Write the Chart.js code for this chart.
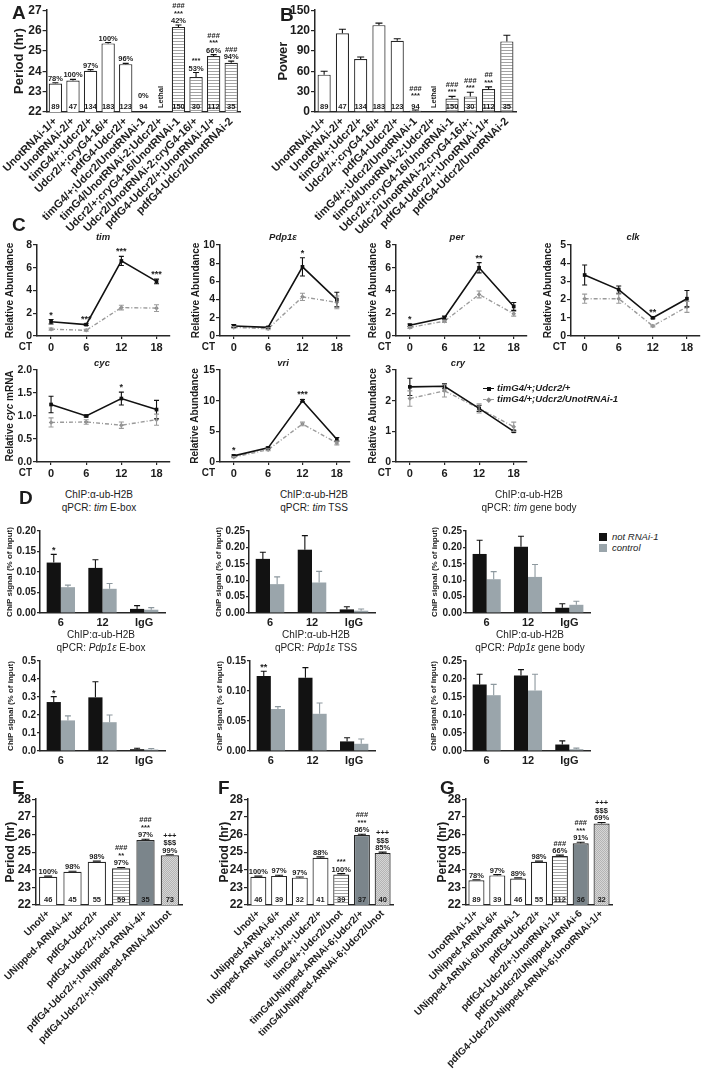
<!DOCTYPE html>
<html>
<head>
<meta charset="utf-8">
<title>Udcr2 / not RNAi figure</title>
<script src="https://cdn.jsdelivr.net/npm/chart.js@4.4.1/dist/chart.umd.min.js"></script>
<style>
  html, body { margin: 0; padding: 0; background: #fff; }
  body { position: relative; width: 709px; height: 1074px; overflow: hidden;
         font-family: "Liberation Sans", Arial, Helvetica, sans-serif; color: #1c1c1c; }
  canvas { position: absolute; }
  .t { position: absolute; white-space: nowrap; line-height: 1; }
  .c { transform: translate(-50%, -50%); }
  .panel { font-size: 19px; font-weight: bold; }
  .gene { font-size: 9.5px; font-weight: bold; font-style: italic; }
  .chip { font-size: 10px; text-align: center; line-height: 12.5px; }
  .key { font-size: 9.5px; font-style: italic; }
  .keyb { font-size: 9.5px; font-style: italic; font-weight: bold; }
  .ytitle { font-size: 10px; font-weight: bold; transform: translate(-50%, -50%) rotate(-90deg); }
</style>
</head>
<body>
<script>
// ---------- data ----------
// A / B : circadian period and power
const genotypesA = ["UnotRNAi-1/+", "UnotRNAi-2/+", "timG4/+;Udcr2/+", "Udcr2/+;cryG4-16/+", "pdfG4-Udcr2/+",
  "timG4/+;Udcr2/UnotRNAi-1", "timG4/UnotRNAi-2;Udcr2/+", "Udcr2/+;cryG4-16/UnotRNAi-1",
  "Udcr2/UnotRNAi-2;cryG4-16/+", "pdfG4-Udcr2/+;UnotRNAi-1/+", "pdfG4-Udcr2/UnotRNAi-2"];
const genotypesB = ["UnotRNAi-1/+", "UnotRNAi-2/+", "timG4/+;Udcr2/+", "Udcr2/+;cryG4-16/+", "pdfG4-Udcr2/+",
  "timG4/+;Udcr2/UnotRNAi-1", "timG4/UnotRNAi-2;Udcr2/+", "Udcr2/+;cryG4-16/UnotRNAi-1",
  "Udcr2/UnotRNAi-2;cryG4-16/+;", "pdfG4-Udcr2/+;UnotRNAi-1/+", "pdfG4-Udcr2/UnotRNAi-2"];
const flyCountAB = [89, 47, 134, 183, 123, 94, "Lethal", 150, 30, 112, 35];
const groupAB = ["ctrl", "ctrl", "ctrl", "ctrl", "ctrl", "ctrl", "ctrl", "kd", "kd", "kd", "kd"];
const periodA = [23.4, 23.55, 24.02, 25.37, 24.35, null, null, 26.18, 23.72, 24.75, 24.42];
const periodAErr = [0.04, 0.05, 0.06, 0.04, 0.04, 0, 0, 0.09, 0.22, 0.07, 0.08];
const rhythmicA = ["78%", "100%", "97%", "100%", "96%", "0%", "", "42%", "53%", "66%", "94%"];
const signifA = ["", "", "", "", "", "", "", "###\n***", "***", "###\n***", "###"];
const powerB = [55, 116, 78, 128, 105, 2, null, 20, 23, 34, 104];
const powerBErr = [5, 6, 3, 3, 3, 1, 0, 3, 6, 3, 9];
const signifB = ["", "", "", "", "", "###\n***", "", "###\n***", "###\n***", "##\n***", ""];

// C : qPCR time courses
const ctHours = [0, 6, 12, 18];
const legendC = ["timG4/+;Udcr2/+", "timG4/+;Udcr2/UnotRNAi-1"];
const timCtrl = [1.25, 1.0, 6.6, 4.8],   timCtrlErr = [0.2, 0.08, 0.4, 0.2];
const timKd   = [0.6, 0.5, 2.5, 2.45],   timKdErr   = [0.1, 0.08, 0.2, 0.3];
const timStars = ["*", "***", "***", "***"];
const pdpCtrl = [1.1, 0.95, 7.6, 4.0],   pdpCtrlErr = [0.15, 0.1, 1.0, 0.8];
const pdpKd   = [0.95, 0.8, 4.3, 3.7],   pdpKdErr   = [0.1, 0.1, 0.4, 0.7];
const pdpStars = ["", "", "*", ""];
const perCtrl = [0.95, 1.6, 6.0, 2.6],   perCtrlErr = [0.1, 0.15, 0.45, 0.35];
const perKd   = [0.75, 1.3, 3.65, 1.95], perKdErr   = [0.08, 0.1, 0.3, 0.2];
const perStars = ["*", "", "**", ""];
const clkCtrl = [3.35, 2.55, 1.0, 2.05], clkCtrlErr = [0.55, 0.2, 0.05, 0.45];
const clkKd   = [2.05, 2.05, 0.55, 1.6], clkKdErr   = [0.25, 0.25, 0.05, 0.3];
const clkStars = ["", "", "**", ""];
const cycCtrl = [1.25, 1.0, 1.38, 1.14], cycCtrlErr = [0.18, 0.02, 0.14, 0.2];
const cycKd   = [0.86, 0.87, 0.8, 0.92], cycKdErr   = [0.1, 0.05, 0.07, 0.12];
const cycStars = ["", "", "*", ""];
const vriCtrl = [1.0, 2.3, 10.0, 3.7],   vriCtrlErr = [0.15, 0.15, 0.2, 0.3];
const vriKd   = [0.8, 2.0, 6.2, 3.1],    vriKdErr   = [0.1, 0.15, 0.3, 0.3];
const vriStars = ["*", "", "***", ""];
const cryCtrl = [2.45, 2.47, 1.75, 1.0], cryCtrlErr = [0.28, 0.08, 0.1, 0.03];
const cryKd   = [2.07, 2.32, 1.75, 1.15], cryKdErr  = [0.25, 0.2, 0.15, 0.15];
const cryStars = ["", "", "", ""];

// D : ChIP
const chipGroups = ["6", "12", "IgG"];
const chipSeries = ["not RNAi-1", "control"];
const timEboxNot = [0.123, 0.11, 0.01],  timEboxNotErr = [0.02, 0.02, 0.008];
const timEboxCtl = [0.063, 0.059, 0.008], timEboxCtlErr = [0.005, 0.013, 0.005];
const timEboxStars = ["*", "", ""];
const timTssNot = [0.165, 0.193, 0.011], timTssNotErr = [0.02, 0.043, 0.008];
const timTssCtl = [0.088, 0.093, 0.007], timTssCtlErr = [0.022, 0.034, 0.005];
const timBodyNot = [0.18, 0.202, 0.016], timBodyNotErr = [0.042, 0.032, 0.012];
const timBodyCtl = [0.103, 0.11, 0.025], timBodyCtlErr = [0.023, 0.038, 0.011];
const pdpEboxNot = [0.272, 0.298, 0.01], pdpEboxNotErr = [0.03, 0.087, 0.005];
const pdpEboxCtl = [0.17, 0.16, 0.008],  pdpEboxCtlErr = [0.025, 0.04, 0.006];
const pdpEboxStars = ["*", "", ""];
const pdpTssNot = [0.125, 0.122, 0.016], pdpTssNotErr = [0.008, 0.017, 0.006];
const pdpTssCtl = [0.07, 0.062, 0.012],  pdpTssCtlErr = [0.004, 0.018, 0.008];
const pdpTssStars = ["**", "", ""];
const pdpBodyNot = [0.185, 0.21, 0.018], pdpBodyNotErr = [0.028, 0.016, 0.01];
const pdpBodyCtl = [0.155, 0.168, 0.005], pdpBodyCtlErr = [0.03, 0.045, 0.003];

// E / F / G : period
const genotypesE = ["Unot/+", "UNipped-ARNAi-4/+", "pdfG4-Udcr2/+", "pdfG4-Udcr2/+;Unot/+",
  "pdfG4-Udcr2/+;UNipped-ARNAi-4/+", "pdfG4-Udcr2/+;UNipped-ARNAi-4/Unot"];
const periodE = [23.6, 23.88, 24.45, 24.08, 25.68, 24.82];
const periodEErr = [0.04, 0.03, 0.04, 0.05, 0.05, 0.03];
const rhythmicE = ["100%", "98%", "98%", "97%", "97%", "99%"];
const countE = [46, 45, 55, 59, 35, 73];
const signifE = ["", "", "", "###\n**", "###\n***", "+++\n$$$"];
const groupE = ["ctrl", "ctrl", "ctrl", "kd", "dbl", "triple"];

const genotypesF = ["Unot/+", "UNipped-ARNAi-6/+", "UNipped-ARNAi-6/+;Unot/+", "timG4/+;Udcr2/+",
  "timG4/+;Udcr2/Unot", "timG4/UNipped-ARNAi-6;Udcr2/+", "timG4/UNipped-ARNAi-6;Udcr2/Unot"];
const periodF = [23.6, 23.65, 23.55, 24.68, 23.73, 25.97, 24.95];
const periodFErr = [0.04, 0.04, 0.04, 0.05, 0.05, 0.04, 0.05];
const rhythmicF = ["100%", "97%", "97%", "88%", "100%", "86%", "85%"];
const countF = [46, 39, 32, 41, 39, 37, 40];
const signifF = ["", "", "", "", "***", "###\n***", "+++\n$$$"];
const groupF = ["ctrl", "ctrl", "ctrl", "ctrl", "kd", "dbl", "triple"];

const genotypesG = ["UnotRNAi-1/+", "UNipped-ARNAi-6/+", "UNipped-ARNAi-6/UnotRNAi-1", "pdfG4-Udcr2/+",
  "pdfG4-Udcr2/+;UnotRNAi-1/+", "pdfG4-Udcr2/UNipped-ARNAi-6", "pdfG4-Udcr2/UNipped-ARNAi-6;UnotRNAi-1/+"];
const periodG = [23.4, 23.68, 23.5, 24.45, 24.78, 25.5, 26.62];
const periodGErr = [0.03, 0.04, 0.04, 0.04, 0.05, 0.06, 0.06];
const rhythmicG = ["78%", "97%", "89%", "98%", "66%", "91%", "69%"];
const countG = [89, 39, 46, 55, 112, 36, 32];
const signifG = ["", "", "", "", "###", "###\n***", "+++\n$$$"];
const groupG = ["ctrl", "ctrl", "ctrl", "ctrl", "kd", "dbl", "triple"];

// ---------- setup ----------
const FONT = '"Liberation Sans", Arial, Helvetica, sans-serif';
const INK = '#1c1c1c';
Chart.defaults.font.family = FONT;
Chart.defaults.color = INK;
Chart.defaults.animation = false;
Chart.defaults.plugins.legend.display = false;
Chart.defaults.plugins.tooltip.enabled = false;

function pattern(w, h, paint) {
  const c = document.createElement('canvas');
  c.width = w; c.height = h;
  const g = c.getContext('2d');
  paint(g);
  return g.createPattern(c, 'repeat');
}
const FILL = {
  ctrl: '#ffffff',
  kd: pattern(4, 3, g => { g.fillStyle = '#fff'; g.fillRect(0, 0, 4, 3); g.fillStyle = '#a3a3a3'; g.fillRect(0, 0, 4, 1); }),
  dbl: '#7b858b',
  triple: pattern(2, 2, g => { g.fillStyle = '#d6d6d6'; g.fillRect(0, 0, 2, 2); g.fillStyle = '#b4b4b4'; g.fillRect(0, 0, 1, 1); g.fillRect(1, 1, 1, 1); })
};

function mount(cv) {
  const c = document.createElement('canvas');
  c.width = cv.width; c.height = cv.height;
  c.style.left = cv.left + 'px'; c.style.top = cv.top + 'px';
  c.style.width = cv.width + 'px'; c.style.height = cv.height + 'px';
  document.body.appendChild(c);
  return c;
}
// canvas + wanted plot box -> padding and fixed axis sizes
function frame(cv, box) {
  return {
    padding: { left: 0, bottom: 0, top: box.top - cv.top, right: cv.left + cv.width - box.right },
    yw: box.left - cv.left,
    xh: cv.top + cv.height - box.bottom
  };
}
function addText(html, x, y, cls, centered) {
  const d = document.createElement('div');
  d.className = 't ' + cls + (centered ? ' c' : '');
  d.style.left = x + 'px'; d.style.top = y + 'px';
  d.innerHTML = html;
  document.body.appendChild(d);
  return d;
}

// error bars, text above marks, n inside bars
const marks = {
  id: 'marks',
  afterDatasetsDraw(chart, args, o) {
    const { ctx, chartArea: ca } = chart;
    const y = chart.scales.y;
    ctx.save();
    chart.data.datasets.forEach((ds, di) => {
      chart.getDatasetMeta(di).data.forEach((el, i) => {
        const raw = ds.data[i];
        const val = (raw && typeof raw === 'object') ? raw.y : raw;
        const px = el.x;
        let top = val == null ? ca.bottom - (o.emptyLift || 10) : el.y;
        const err = ds.errors ? ds.errors[i] : 0;
        if (val != null && err) {
          const up = y.getPixelForValue(val + err);
          ctx.strokeStyle = ds.errColor || '#111';
          ctx.lineWidth = 1.1;
          ctx.beginPath();
          ctx.moveTo(px, el.y); ctx.lineTo(px, up);
          ctx.moveTo(px - o.cap, up); ctx.lineTo(px + o.cap, up);
          if (o.both) {
            const dn = y.getPixelForValue(val - err);
            ctx.moveTo(px, el.y); ctx.lineTo(px, dn);
            ctx.moveTo(px - o.cap, dn); ctx.lineTo(px + o.cap, dn);
          }
          ctx.stroke();
          top = Math.min(top, up);
        }
        if (o.countRoom) top = Math.min(top, ca.bottom - o.countRoom);
        const txt = ds.topText ? ds.topText[i] : '';
        if (txt) {
          const lines = txt.split('\n');
          ctx.fillStyle = INK; ctx.font = o.textFont;
          ctx.textAlign = 'center'; ctx.textBaseline = 'alphabetic';
          lines.forEach((t, k) => ctx.fillText(t, px, top - o.gap - (lines.length - 1 - k) * o.lh));
        }
        const n = ds.counts ? ds.counts[i] : null;
        if (n != null) {
          ctx.fillStyle = INK; ctx.font = o.countFont;
          if (typeof n === 'string') {
            ctx.save();
            ctx.translate(px, ca.bottom - 4);
            ctx.rotate(-Math.PI / 2);
            ctx.textAlign = 'left'; ctx.textBaseline = 'middle';
            ctx.fillText(n, 0, 0);
            ctx.restore();
          } else {
            ctx.textAlign = 'center'; ctx.textBaseline = 'bottom';
            ctx.fillText(String(n), px, ca.bottom - 1);
          }
        }
      });
    });
    ctx.restore();
  }
};

const ctLabel = {
  id: 'ctLabel',
  afterDraw(chart) {
    const { ctx, chartArea } = chart;
    ctx.save();
    ctx.font = 'bold 10px ' + FONT; ctx.fillStyle = INK;
    ctx.textAlign = 'right'; ctx.textBaseline = 'top';
    ctx.fillText('CT', chartArea.left - 5, chart.scales.x.top + 6);
    ctx.restore();
  }
};

function axisY(f, o) {
  return {
    min: o.min, max: o.max,
    grid: { drawOnChartArea: false, tickLength: o.tickLen || 4, color: '#262626', lineWidth: 1.2 },
    border: { color: '#262626', width: 1.5 },
    ticks: { stepSize: o.step, padding: 1, color: INK, font: { size: o.tickSize, weight: 'bold' },
             callback: o.fmt || (v => v) },
    title: o.yTitle ? { display: true, text: o.yTitle, color: INK, font: { size: o.titleSize, weight: 'bold' },
             padding: { top: o.titlePad, bottom: 0 } } : { display: false },
    afterFit: s => { s.width = f.yw; }
  };
}

function periodPanel(o) {
  const f = frame(o.canvas, o.box);
  return new Chart(mount(o.canvas), {
    type: 'bar',
    data: {
      labels: o.labels,
      datasets: [{
        data: o.values,
        errors: o.errors,
        topText: o.values.map((v, i) => [o.sig[i], o.pct[i]].filter(Boolean).join('\n')),
        counts: o.counts,
        backgroundColor: o.groups.map(k => FILL[k]),
        borderColor: '#262626',
        borderWidth: 1.2,
        categoryPercentage: o.barShare,
        barPercentage: 1
      }]
    },
    options: {
      responsive: false,
      layout: { padding: f.padding },
      scales: {
        x: {
          grid: { display: false, drawTicks: false },
          border: { display: true, color: '#262626', width: 1.5 },
          ticks: { autoSkip: false, minRotation: 45, maxRotation: 45, padding: 3, color: INK,
                   font: { size: o.labelSize, weight: 'bold' } },
          afterFit: s => { s.height = f.xh; }
        },
        y: axisY(f, o)
      },
      plugins: { marks: { cap: o.cap, gap: 2, lh: 7.5, textFont: 'bold 7.5px ' + FONT,
                          countFont: 'bold 7.5px ' + FONT, emptyLift: 10, countRoom: 12 } }
    },
    plugins: [marks]
  });
}

function linePanel(o) {
  const f = frame(o.canvas, o.box);
  const pts = arr => ctHours.map((h, i) => ({ x: h, y: arr[i] }));
  return new Chart(mount(o.canvas), {
    type: 'line',
    data: {
      datasets: [
        { label: legendC[0], data: pts(o.ctrl), errors: o.ctrlErr, topText: o.stars, errColor: '#111',
          borderColor: '#111', backgroundColor: '#111', borderWidth: 1.6,
          pointStyle: 'rect', pointRadius: 2.6, pointBorderWidth: 0 },
        { label: legendC[1], data: pts(o.kd), errors: o.kdErr, errColor: '#9a9a9a',
          borderColor: '#9a9a9a', backgroundColor: '#8a8a8a', borderWidth: 1.4, borderDash: [4, 2, 1, 2],
          pointStyle: 'rectRot', pointRadius: 2.3, pointBorderWidth: 0 }
      ]
    },
    options: {
      responsive: false,
      layout: { padding: f.padding },
      scales: {
        x: {
          type: 'linear', min: -2.4, max: 20.3,
          afterBuildTicks: s => { s.ticks = ctHours.map(v => ({ value: v })); },
          grid: { drawOnChartArea: false, tickLength: 3, color: '#262626', lineWidth: 1.2 },
          border: { color: '#262626', width: 1.5 },
          ticks: { padding: 2, maxRotation: 0, color: INK, font: { size: 11, weight: 'bold' } },
          afterFit: s => { s.height = f.xh; }
        },
        y: axisY(f, Object.assign({ min: 0, tickSize: 10.5, titleSize: 10 }, o))
      },
      plugins: { marks: { cap: 2.5, both: true, gap: 2, lh: 7, textFont: 'bold 9px ' + FONT } }
    },
    plugins: [marks, ctLabel]
  });
}

function chipPanel(o) {
  const f = frame(o.canvas, o.box);
  return new Chart(mount(o.canvas), {
    type: 'bar',
    data: {
      labels: chipGroups,
      datasets: [
        { label: chipSeries[0], data: o.not, errors: o.notErr, topText: o.stars || [], errColor: '#111',
          backgroundColor: '#121212', categoryPercentage: 0.68, barPercentage: 1 },
        { label: chipSeries[1], data: o.ctl, errors: o.ctlErr, errColor: '#8d989e',
          backgroundColor: '#9aa5ab', categoryPercentage: 0.68, barPercentage: 1 }
      ]
    },
    options: {
      responsive: false,
      layout: { padding: f.padding },
      scales: {
        x: {
          grid: { display: false, drawTicks: false },
          border: { display: true, color: '#262626', width: 1.5 },
          ticks: { padding: 3, color: INK, font: { size: 11, weight: 'bold' } },
          afterFit: s => { s.height = f.xh; }
        },
        y: axisY(f, Object.assign({ min: 0, tickSize: 10, tickLen: 3, titleSize: 8, yTitle: 'ChIP signal (% of input)',
                                    fmt: v => v.toFixed(o.dec) }, o))
      },
      plugins: { marks: { cap: 3, gap: 1, lh: 7, textFont: 'bold 9px ' + FONT } }
    },
    plugins: [marks]
  });
}

// ---------- A / B ----------
periodPanel({
  canvas: { left: 0, top: 2, width: 248, height: 240 }, box: { left: 45, right: 240, top: 10, bottom: 112 },
  labels: genotypesA, values: periodA, errors: periodAErr, pct: rhythmicA, sig: signifA, counts: flyCountAB,
  groups: groupAB, min: 22, max: 27, step: 1, tickSize: 12, yTitle: 'Period (hr)', titleSize: 13, titlePad: 10,
  barShare: 0.76, cap: 3, labelSize: 11
});
periodPanel({
  canvas: { left: 240, top: 2, width: 284, height: 240 }, box: { left: 315, right: 516, top: 10, bottom: 112 },
  labels: genotypesB, values: powerB, errors: powerBErr, pct: [], sig: signifB, counts: flyCountAB,
  groups: groupAB, min: 0, max: 150, step: 30, tickSize: 12, yTitle: 'Power', titleSize: 13, titlePad: 36,
  barShare: 0.72, cap: 3.5, labelSize: 11
});

// ---------- C ----------
const row1 = { top: 245, bottom: 336 }, row2 = { top: 370, bottom: 462 };
function cBox(left, right, row) { return { left: left, right: right, top: row.top, bottom: row.bottom }; }
function cCanvas(left, width, row) { return { left: left, width: width, top: row.top - 8, height: row.bottom + 22 - row.top + 8 }; }
linePanel({ canvas: cCanvas(0, 178, row1), box: cBox(37, 170, row1), ctrl: timCtrl, ctrlErr: timCtrlErr, kd: timKd, kdErr: timKdErr,
  stars: timStars, max: 8, step: 2, yTitle: 'Relative Abundance', titlePad: 4 });
linePanel({ canvas: cCanvas(180, 178, row1), box: cBox(220, 350, row1), ctrl: pdpCtrl, ctrlErr: pdpCtrlErr, kd: pdpKd, kdErr: pdpKdErr,
  stars: pdpStars, max: 10, step: 2, yTitle: 'Relative Abundance', titlePad: 10 });
linePanel({ canvas: cCanvas(355, 180, row1), box: cBox(396, 527, row1), ctrl: perCtrl, ctrlErr: perCtrlErr, kd: perKd, kdErr: perKdErr,
  stars: perStars, max: 8, step: 2, yTitle: 'Relative Abundance', titlePad: 12 });
linePanel({ canvas: cCanvas(530, 178, row1), box: cBox(571, 700, row1), ctrl: clkCtrl, ctrlErr: clkCtrlErr, kd: clkKd, kdErr: clkKdErr,
  stars: clkStars, max: 5, step: 1, yTitle: 'Relative Abundance', titlePad: 12 });
linePanel({ canvas: cCanvas(0, 178, row2), box: cBox(37, 170, row2), ctrl: cycCtrl, ctrlErr: cycCtrlErr, kd: cycKd, kdErr: cycKdErr,
  stars: cycStars, max: 2, step: 0.5, fmt: v => v.toFixed(1) });
linePanel({ canvas: cCanvas(180, 178, row2), box: cBox(220, 350, row2), ctrl: vriCtrl, ctrlErr: vriCtrlErr, kd: vriKd, kdErr: vriKdErr,
  stars: vriStars, max: 15, step: 5, yTitle: 'Relative Abundance', titlePad: 9 });
linePanel({ canvas: cCanvas(355, 180, row2), box: cBox(396, 527, row2), ctrl: cryCtrl, ctrlErr: cryCtrlErr, kd: cryKd, kdErr: cryKdErr,
  stars: cryStars, max: 3, step: 1, yTitle: 'Relative Abundance', titlePad: 12 });

// ---------- D ----------
const dRow1 = { top: 531, bottom: 613 }, dRow2 = { top: 661, bottom: 751 };
function dCanvas(left, width, row) { return { left: left, width: width, top: row.top - 16, height: row.bottom + 20 - row.top + 16 }; }
chipPanel({ canvas: dCanvas(0, 173, dRow1), box: cBox(40, 165, dRow1), not: timEboxNot, notErr: timEboxNotErr,
  ctl: timEboxCtl, ctlErr: timEboxCtlErr, stars: timEboxStars, max: 0.2, step: 0.05, dec: 2, titlePad: 5 });
chipPanel({ canvas: dCanvas(205, 178, dRow1), box: cBox(249, 375, dRow1), not: timTssNot, notErr: timTssNotErr,
  ctl: timTssCtl, ctlErr: timTssCtlErr, max: 0.25, step: 0.05, dec: 2, titlePad: 8.5 });
chipPanel({ canvas: dCanvas(420, 178, dRow1), box: cBox(466, 590, dRow1), not: timBodyNot, notErr: timBodyNotErr,
  ctl: timBodyCtl, ctlErr: timBodyCtlErr, max: 0.25, step: 0.05, dec: 2, titlePad: 9.5 });
chipPanel({ canvas: dCanvas(0, 173, dRow2), box: cBox(40, 165, dRow2), not: pdpEboxNot, notErr: pdpEboxNotErr,
  ctl: pdpEboxCtl, ctlErr: pdpEboxCtlErr, stars: pdpEboxStars, max: 0.5, step: 0.1, dec: 1, titlePad: 6 });
chipPanel({ canvas: dCanvas(205, 178, dRow2), box: cBox(250, 375, dRow2), not: pdpTssNot, notErr: pdpTssNotErr,
  ctl: pdpTssCtl, ctlErr: pdpTssCtlErr, stars: pdpTssStars, max: 0.15, step: 0.05, dec: 2, titlePad: 9.5 });
chipPanel({ canvas: dCanvas(420, 178, dRow2), box: cBox(466, 590, dRow2), not: pdpBodyNot, notErr: pdpBodyNotErr,
  ctl: pdpBodyCtl, ctlErr: pdpBodyCtlErr, max: 0.25, step: 0.05, dec: 2, titlePad: 9 });

// ---------- E / F / G ----------
periodPanel({
  canvas: { left: 0, top: 791, width: 190, height: 283 }, box: { left: 36, right: 182, top: 799, bottom: 905 },
  labels: genotypesE, values: periodE, errors: periodEErr, pct: rhythmicE, sig: signifE, counts: countE,
  groups: groupE, min: 22, max: 28, step: 1, tickSize: 12, yTitle: 'Period (hr)', titleSize: 12, titlePad: 3,
  barShare: 0.75, cap: 4, labelSize: 10
});
periodPanel({
  canvas: { left: 190, top: 791, width: 211, height: 283 }, box: { left: 248, right: 393, top: 799, bottom: 905 },
  labels: genotypesF, values: periodF, errors: periodFErr, pct: rhythmicF, sig: signifF, counts: countF,
  groups: groupF, min: 22, max: 28, step: 1, tickSize: 12, yTitle: 'Period (hr)', titleSize: 12, titlePad: 27,
  barShare: 0.77, cap: 4, labelSize: 10
});
periodPanel({
  canvas: { left: 405, top: 791, width: 215, height: 283 }, box: { left: 466, right: 612, top: 799, bottom: 905 },
  labels: genotypesG, values: periodG, errors: periodGErr, pct: rhythmicG, sig: signifG, counts: countG,
  groups: groupG, min: 22, max: 28, step: 1, tickSize: 12, yTitle: 'Period (hr)', titleSize: 12, titlePad: 30,
  barShare: 0.77, cap: 4, labelSize: 10
});

// ---------- text: panel letters, titles, legends ----------
[["A", 12, 2.5], ["B", 280, 4.5], ["C", 12, 214.5], ["D", 19, 487.5], ["E", 12, 777.5], ["F", 218, 777.5], ["G", 440, 777.5]]
  .forEach(p => addText(p[0], p[1], p[2], 'panel', false));

[["tim", 103, 237], ["Pdp1ε", 283, 237], ["per", 457, 237], ["clk", 633, 237],
 ["cyc", 102, 363], ["vri", 283, 363], ["cry", 458, 363]].forEach(p => addText(p[0], p[1], p[2], 'gene', true));
addText('Relative <i>cyc</i> mRNA', 10, 416, 'ytitle', false);

addText('', 483, 388, '', false).style.cssText += 'width:11px;border-top:1.5px solid #111;';
addText('', 486.5, 386.5, '', false).style.cssText += 'width:4px;height:4px;background:#111;';
addText(legendC[0], 497, 383, 'keyb', false);
addText('', 483, 399, '', false).style.cssText += 'width:11px;border-top:1.3px dashed #9a9a9a;';
addText('', 486.5, 397.5, '', false).style.cssText += 'width:3.5px;height:3.5px;background:#8a8a8a;transform:rotate(45deg);';
addText(legendC[1], 497, 394, 'keyb', false);

const chipTitles = [
  ["tim", "E-box", 99, 495], ["tim", "TSS", 314, 495], ["tim", "gene body", 529, 495],
  ["Pdp1ε", "E-box", 101, 635], ["Pdp1ε", "TSS", 316, 635], ["Pdp1ε", "gene body", 530, 635]
];
chipTitles.forEach(t => addText('ChIP:α-ub-H2B<br>qPCR: <i>' + t[0] + '</i> ' + t[1], t[2], t[3] + 6, 'chip', true));

addText('', 599, 533, '', false).style.cssText += 'width:8px;height:8px;background:#121212;';
addText(chipSeries[0], 612, 532, 'key', false);
addText('', 599, 544, '', false).style.cssText += 'width:8px;height:8px;background:#9aa5ab;';
addText(chipSeries[1], 612, 543, 'key', false);
</script>
</body>
</html>
